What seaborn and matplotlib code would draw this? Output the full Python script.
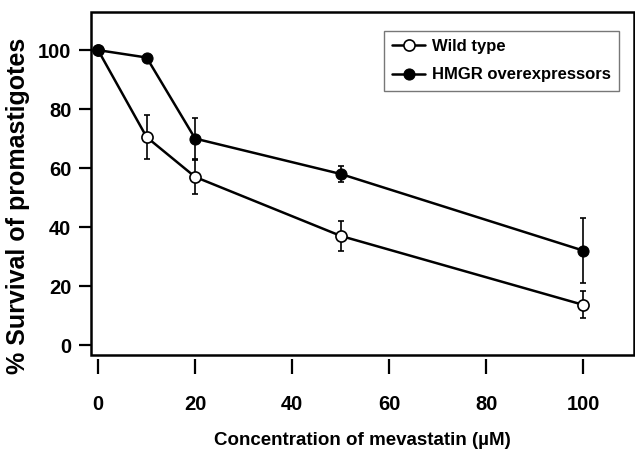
import matplotlib
matplotlib.use("Agg")
import matplotlib.pyplot as plt
import seaborn as sns
import pandas as pd
from matplotlib.patches import Rectangle

conc = [0, 10, 20, 50, 100]
wild_type = [100, 70.5, 57, 37, 13.6]
wild_err = [0, 7.5, 5.7, 5.0, 4.6]
hmgr = [100, 97.5, 70, 58, 32]
hmgr_err = [0, 0, 7, 2.8, 11]
xticks = [0, 20, 40, 60, 80, 100]
yticks = [0, 20, 40, 60, 80, 100]

sns.set_theme(style="white")
plt.rcParams['font.family'] = ['Liberation Sans', 'DejaVu Sans']
plt.rcParams['text.color'] = 'black'
plt.rcParams['axes.labelcolor'] = 'black'

fig = plt.figure(figsize=(6.35, 4.54), dpi=100)
ax = fig.add_axes([0.143, 0.218, 0.856, 0.756])

df_w = pd.DataFrame({"x": conc, "y": wild_type})
df_h = pd.DataFrame({"x": conc, "y": hmgr})

ax.errorbar(conc, wild_type, yerr=wild_err, fmt='none', ecolor='black',
            elinewidth=1.2, capsize=2.3, capthick=1.2, zorder=2)
ax.errorbar(conc, hmgr, yerr=hmgr_err, fmt='none', ecolor='black',
            elinewidth=1.2, capsize=2.3, capthick=1.2, zorder=2)
sns.lineplot(data=df_w, x="x", y="y", ax=ax, color='black', lw=1.8,
             marker='o', markersize=8, markerfacecolor='white',
             markeredgecolor='black', markeredgewidth=1.2,
             label='Wild type', zorder=3)
sns.lineplot(data=df_h, x="x", y="y", ax=ax, color='black', lw=1.8,
             marker='o', markersize=8, markerfacecolor='black',
             markeredgecolor='black', label='HMGR overexpressors', zorder=4)

ax.set_xlim(-1.5, 110.5)
ax.set_ylim(-3.4, 113)
ax.set_xticks(xticks)
ax.set_yticks(yticks)

for s in ax.spines.values():
    s.set_visible(False)
ax.spines['bottom'].set_position(('outward', 3))
ax.add_patch(Rectangle((0, 0), 1, 1, transform=ax.transAxes, fill=False,
                       edgecolor='black', lw=1.8, clip_on=False, zorder=5))

ax.tick_params(axis='x', direction='out', length=11, width=1.6, pad=15,
               bottom=True, labelsize=14.5, colors='black')
ax.tick_params(axis='y', direction='out', length=9, width=1.6, pad=5,
               left=True, labelsize=14.5, colors='black')
for lab in ax.get_xticklabels() + ax.get_yticklabels():
    lab.set_fontweight('bold')

ax.set_xlabel('Concentration of mevastatin (µM)', fontsize=13.5,
              fontweight='bold', labelpad=13)
ax.set_ylabel('% Survival of promastigotes', fontsize=18, fontweight='bold')
ax.yaxis.set_label_coords(-0.112, 0.435)

leg = ax.legend(loc='upper right', bbox_to_anchor=(0.972, 0.945), frameon=True,
                fancybox=False, edgecolor='#555555',
                handlelength=2.0, handletextpad=0.4, borderpad=0.5,
                labelspacing=0.8, borderaxespad=0,
                prop={'weight': 'bold', 'size': 12})
leg.get_frame().set_linewidth(1.0)

fig.savefig('out.png', dpi=100)
